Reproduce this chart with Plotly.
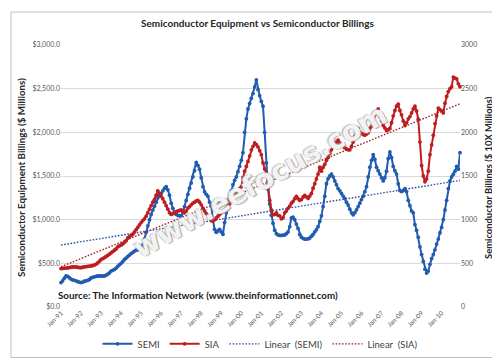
import numpy as np
import plotly.graph_objects as go

# ---------------- data (monthly, Jan-91 .. Dec-10) ----------------
years = [str(y % 100).zfill(2) for y in range(1991, 2011)]
tick_labels = ["Jan-" + y for y in years]

semi = [
    280, 300, 330, 355, 350, 335, 320, 310, 305, 300, 290, 285,        # 1991
    280, 285, 295, 300, 305, 315, 333, 340, 345, 350, 355, 355,        # 1992
    355, 355, 355, 365, 375, 390, 411, 420, 430, 445, 466, 485,        # 1993
    500, 520, 544, 560, 578, 595, 611, 625, 640, 650, 655, 665,        # 1994
    690, 711, 780, 855, 930, 1000, 1060, 1110, 1155, 1200, 1250, 1280, # 1995
    1300, 1330, 1360, 1378, 1340, 1280, 1189, 1130, 1078, 1060, 1050, 1045,  # 1996
    1044, 1080, 1150, 1220, 1290, 1360, 1420, 1489, 1560, 1656, 1620, 1578,  # 1997
    1480, 1378, 1320, 1290, 1267, 1200, 1155, 1000, 889, 855, 870, 889,      # 1998
    860, 833, 967, 1080, 1189, 1260, 1333, 1400, 1450, 1489, 1550, 1611,     # 1999
    1680, 1767, 2000, 2155, 2267, 2330, 2389, 2444, 2520, 2600, 2489, 2420,  # 2000
    2355, 2300, 2000, 1650, 1350, 1180, 1050, 960, 880, 840, 825, 820,       # 2001
    820, 822, 825, 840, 860, 920, 1020, 1030, 1000, 950, 900, 830,           # 2002
    800, 785, 778, 778, 780, 790, 810, 830, 860, 885, 920, 980,              # 2003
    1044, 1150, 1267, 1411, 1470, 1500, 1522, 1490, 1444, 1400, 1356, 1330,  # 2004
    1300, 1270, 1244, 1200, 1167, 1120, 1078, 1055, 1080, 1111, 1150, 1189,  # 2005
    1230, 1267, 1320, 1378, 1489, 1600, 1680, 1744, 1689, 1600, 1560, 1522,  # 2006
    1480, 1444, 1480, 1555, 1700, 1775, 1711, 1611, 1560, 1522, 1411, 1333,  # 2007
    1322, 1333, 1356, 1322, 1222, 1160, 1100, 1078, 944, 878, 800, 689,      # 2008
    600, 522, 433, 389, 411, 489, 555, 600, 655, 720, 778, 850,              # 2009
    911, 1000, 1111, 1222, 1356, 1444, 1489, 1520, 1555, 1611, 1578, 1767,   # 2010
]

sia = [
    440, 442, 445, 445, 448, 452, 455, 458, 460, 458, 455, 452,        # 1991
    450, 455, 460, 462, 466, 468, 470, 475, 480, 490, 505, 525,        # 1992
    544, 555, 565, 578, 590, 605, 620, 635, 650, 665, 689, 700,        # 1993
    710, 722, 740, 760, 790, 805, 820, 833, 860, 885, 911, 940,        # 1994
    967, 990, 1010, 1040, 1080, 1120, 1160, 1200, 1230, 1280, 1330, 1300,    # 1995
    1267, 1240, 1200, 1160, 1120, 1080, 1060, 1070, 1085, 1090, 1100, 1105,  # 1996
    1111, 1095, 1078, 1100, 1133, 1150, 1170, 1189, 1200, 1215, 1222, 1200,  # 1997
    1170, 1133, 1100, 1070, 1044, 1015, 989, 985, 1000, 1020, 1040, 1060,    # 1998
    1078, 1095, 1110, 1130, 1155, 1180, 1210, 1240, 1267, 1300, 1330, 1355,  # 1999
    1378, 1480, 1555, 1610, 1667, 1730, 1800, 1840, 1878, 1860, 1833, 1790,  # 2000
    1744, 1650, 1580, 1522, 1378, 1222, 1111, 1055, 1060, 1078, 1050, 1044,  # 2001
    1010, 1022, 1078, 1100, 1130, 1155, 1189, 1210, 1240, 1267, 1240, 1222,  # 2002
    1230, 1260, 1278, 1260, 1244, 1270, 1300, 1360, 1411, 1467, 1522, 1600,  # 2003
    1555, 1600, 1633, 1680, 1711, 1760, 1800, 1830, 1855, 1890, 1911, 1880,  # 2004
    1855, 1840, 1822, 1810, 1800, 1800, 1840, 1889, 1960, 2030, 2044, 2000,  # 2005
    1989, 1975, 1967, 1980, 1995, 2044, 2070, 2111, 2200, 2240, 2267, 2180,  # 2006
    2130, 2078, 2050, 2022, 2030, 2044, 2110, 2189, 2250, 2300, 2322, 2250,  # 2007
    2200, 2130, 2078, 2110, 2155, 2180, 2222, 2267, 2300, 2244, 2150, 1889,  # 2008
    1620, 1500, 1433, 1467, 1555, 1744, 1855, 1967, 2100, 2189, 2278, 2260,  # 2009
    2244, 2222, 2333, 2411, 2467, 2500, 2522, 2633, 2620, 2611, 2555, 2522,  # 2010
]

months = np.arange(len(semi))
tick_pos = list(range(0, len(semi), 12))

# linear trendlines (least squares, as Excel does)
a_semi, b_semi = np.polyfit(months, semi, 1)
a_sia, b_sia = np.polyfit(months, sia, 1)
trend_semi = a_semi * months + b_semi
trend_sia = a_sia * months + b_sia

BLUE = "rgb(33,92,176)"
RED = "rgb(190,30,32)"
FONT = "Lato"
DOTS = "1.6px,1.6px"

fig = go.Figure()
fig.add_trace(go.Scatter(x=months, y=semi, name="SEMI", mode="lines+markers",
                         line=dict(color=BLUE, width=2),
                         marker=dict(color=BLUE, size=3.8), cliponaxis=False))
fig.add_trace(go.Scatter(x=months, y=sia, name="SIA", mode="lines+markers", yaxis="y2",
                         line=dict(color=RED, width=2),
                         marker=dict(color=RED, size=3.8), cliponaxis=False))
fig.add_trace(go.Scatter(x=months, y=trend_semi, name="Linear  (SEMI)", mode="lines",
                         line=dict(color="rgb(45,75,165)", width=1.4, dash=DOTS)))
fig.add_trace(go.Scatter(x=months, y=trend_sia, name="Linear  (SIA)", mode="lines", yaxis="y2",
                         line=dict(color="rgb(165,35,38)", width=1.4, dash=DOTS)))

L, R, T, B = 53, 48, 37, 55
W, H = 500, 362
pw, ph = W - L - R, H - T - B

def px(x):
    return (x - L) / pw

def py(y):
    return (H - B - y) / ph

fig.update_layout(
    width=W, height=H,
    margin=dict(l=L, r=R, t=T, b=B),
    paper_bgcolor="white", plot_bgcolor="white",
    font=dict(family=FONT, color="#404040"),
    showlegend=True,
    legend=dict(orientation="h", x=0.5, xanchor="center", y=py(345), yanchor="middle",
                font=dict(size=9.5, color="#404040"), itemwidth=30,
                bgcolor="rgba(0,0,0,0)"),
    xaxis=dict(range=[0, len(semi) - 1], tickvals=tick_pos, ticktext=tick_labels,
               tickangle=-45, tickfont=dict(size=6.5, color="#595959"),
               showgrid=False, zeroline=False, showline=False, ticks=""),
    yaxis=dict(range=[0, 3000], dtick=500, tickprefix="$", tickformat=",.1f",
               tickfont=dict(size=7, color="#595959"), showgrid=True,
               gridcolor="#D9D9D9", gridwidth=1, zeroline=False, ticks=""),
    yaxis2=dict(range=[0, 3000], dtick=500, overlaying="y", side="right",
                tickformat="d", tickfont=dict(size=7, color="#595959"),
                showgrid=False, zeroline=False, ticks=""),
)

fig.add_annotation(text="<b>Semiconductor Equipment vs Semiconductor Billings</b>",
                   xref="paper", yref="paper", x=px(249), y=py(14), showarrow=False,
                   font=dict(size=10, color="#262626", family=FONT),
                   xanchor="center", yanchor="middle")
fig.add_annotation(text="<b>Semiconductor Equipment Billings ($ Millions)</b>",
                   xref="paper", yref="paper", x=px(13), y=py(174), showarrow=False,
                   textangle=-90, font=dict(size=9.8, color="#262626", family=FONT),
                   xanchor="center", yanchor="middle")
fig.add_annotation(text="<b>Semiconductor Billings ($ 10X Millions)</b>",
                   xref="paper", yref="paper", x=px(481), y=py(174), showarrow=False,
                   textangle=-90, font=dict(size=9.4, color="#262626", family=FONT),
                   xanchor="center", yanchor="middle")
fig.add_annotation(text="<b>Source: The Information Network (www.theinformationnet.com)</b>",
                   xref="paper", yref="paper", x=px(48), y=py(295), showarrow=False,
                   font=dict(size=9.8, color="#1a1a1a", family=FONT),
                   xanchor="left", yanchor="middle")
fig.add_annotation(text="<b>www.eefocus.com</b>",
                   xref="paper", yref="paper", x=px(252), y=py(178), showarrow=False,
                   textangle=-29,
                   font=dict(size=28, color="rgba(255,255,255,0.9)", family="DejaVu Sans",
                             shadow="1px 1px 1px rgb(150,150,150), -1px -1px 1px rgb(185,185,185)"),
                   xanchor="center", yanchor="middle")

fig.add_shape(type="rect", xref="paper", yref="paper",
              x0=px(3), x1=px(497), y0=py(359), y1=py(3),
              line=dict(color="#BFBFBF", width=1), fillcolor="rgba(0,0,0,0)", layer="below")

fig.write_html("out.html")
